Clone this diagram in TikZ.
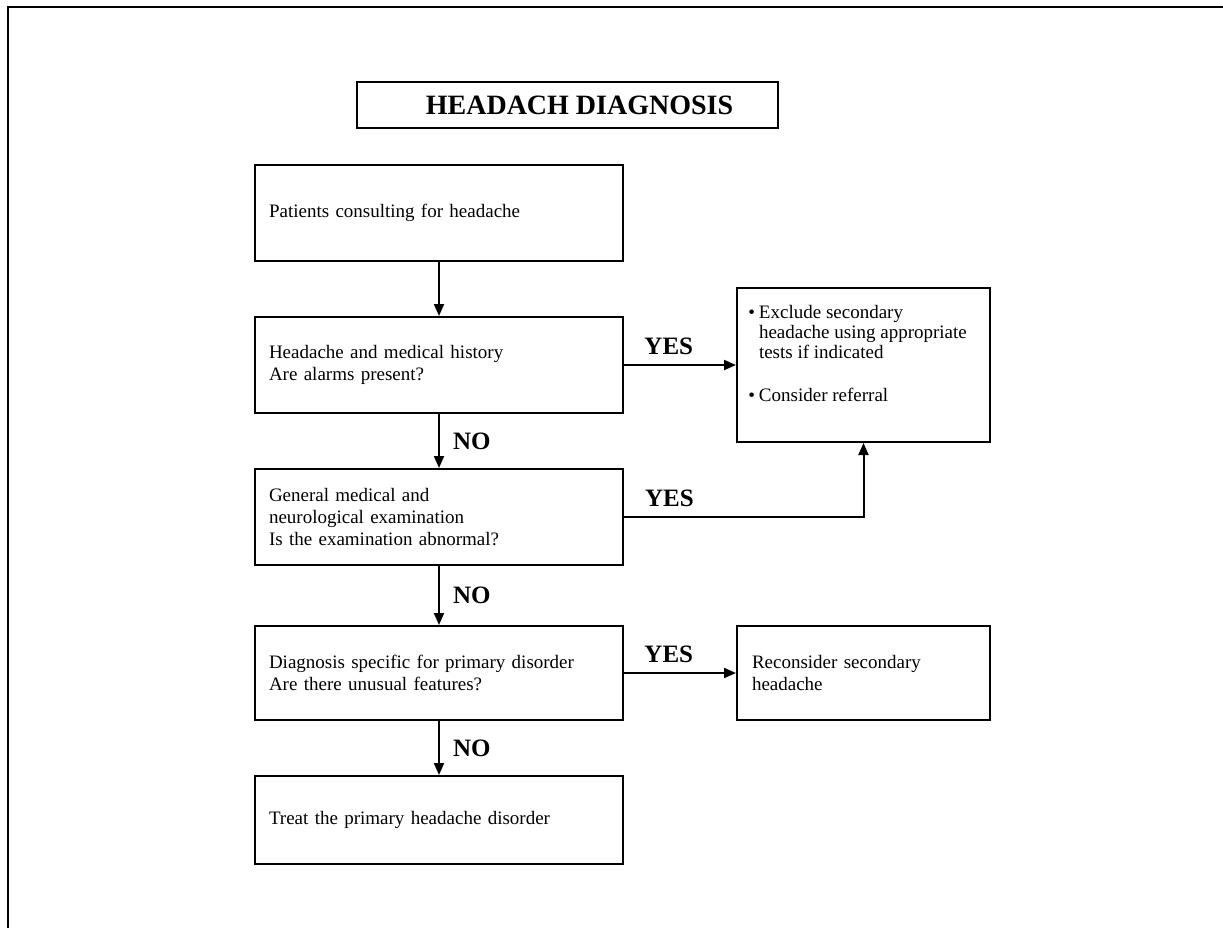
\documentclass[tikz,border=0pt]{standalone}
\usepackage{fontspec}
\setmainfont{Liberation Serif}
\usetikzlibrary{arrows.meta}
\begin{document}
\begin{tikzpicture}[x=0.5pt,y=-0.5pt,
  box/.style={draw,line width=1pt,inner ysep=0pt,align=left},
  mainbox/.style={box,inner xsep=7pt,text width=170pt,minimum height=48pt},
  conn/.style={line width=1pt,-{Triangle[length=6pt,width=5pt]}},
  lbl/.style={font=\fontsize{12.5}{13}\selectfont\bfseries,inner sep=0pt},
  txt/.style={font=\fontsize{9.5}{11}\selectfont}]
\useasboundingbox (0,0) rectangle (1223,928);
\draw[line width=1pt] (8,928) -- (8,7) -- (1223,7);

% title
\node[draw,line width=1pt,minimum width=210.5pt,minimum height=23pt,inner sep=0pt,
      font=\fontsize{14}{16}\selectfont\bfseries] (title) at (567.5,105) {\hspace*{12pt}HEADACH DIAGNOSIS};

% main column
\node[mainbox,txt] (b1) at (439,213) {Patients consulting for headache};
\node[mainbox,txt] (b2) at (439,365) {Headache and medical history\\Are alarms present?};
\node[mainbox,txt] (b3) at (439,517) {General medical and\\neurological examination\\Is the examination abnormal?};
\node[mainbox,txt,minimum height=47pt] (b4) at (439,673) {Diagnosis specific for primary disorder\\Are there unusual features?};
\node[mainbox,txt,minimum height=44pt] (b5) at (439,820) {Treat the primary headache disorder};

% right column
\node[draw,line width=1pt,inner sep=0pt,minimum width=126.5pt,minimum height=77pt,
      font=\fontsize{9.5}{10}\selectfont] (r1) at (863.5,365)
  {\hspace*{11pt}\parbox[c]{115.5pt}{\raggedright\hyphenpenalty=10000
     \noindent\llap{\textbullet\hspace{2pt}}Exclude secondary\\
     headache using appropriate\\
     tests if indicated\par\vspace{11.5pt}
     \noindent\llap{\textbullet\hspace{2pt}}Consider referral\par\vspace{12pt}}};
\node[box,txt,inner xsep=7.5pt,text width=111.5pt,minimum height=47pt] (r2) at (863.5,673)
  {Reconsider secondary\\headache};

% connectors
\draw[conn] (b1.south) -- (b2.north);
\draw[conn] (b2.south) -- node[lbl,right=6.5pt] {NO} (b3.north);
\draw[conn] (b3.south) -- node[lbl,right=6.5pt] {NO} (b4.north);
\draw[conn] (b4.south) -- node[lbl,right=6.5pt] {NO} (b5.north);

\draw[conn] (b2.east) -- node[lbl,above=4.5pt,pos=0.4] {YES} (r1.west);
\draw[conn] (b3.east) -- node[lbl,above=4.5pt,pos=0.19] {YES} (b3.east -| r1.south) -- (r1.south);
\draw[conn] (b4.east) -- node[lbl,above=4.5pt,pos=0.4] {YES} (r2.west);
\end{tikzpicture}
\end{document}
